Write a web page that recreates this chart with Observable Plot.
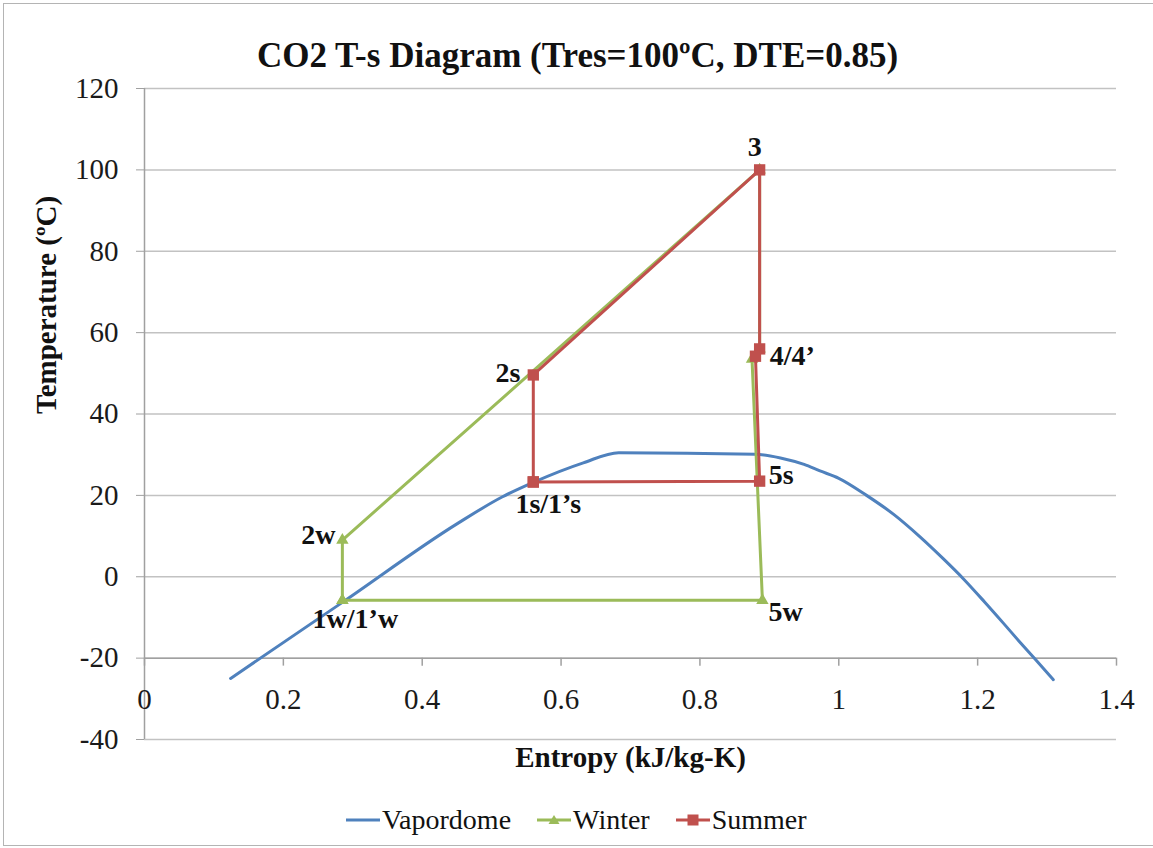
<!DOCTYPE html>
<html>
<head>
<meta charset="utf-8">
<script src="https://cdn.jsdelivr.net/npm/d3@7"></script>
<script src="https://cdn.jsdelivr.net/npm/@observablehq/plot@0.6"></script>
<style>
  body { margin: 0; background: #fff; }
  #wrap { position: relative; width: 1153px; height: 848px; overflow: hidden; background: #fff;
          font-family: "Liberation Serif", "Times New Roman", serif; }
  #frame { position: absolute; left: 3px; top: 3px; width: 1170px; height: 843px;
           border: 1px solid #b4b4b4; box-sizing: border-box; }
  #chart { position: absolute; left: 0; top: 0; }
  #legend { position: absolute; left: 346px; top: 804px; height: 32px; display: flex;
            align-items: center; font-size: 28px; color: #111; white-space: nowrap;
            font-family: "Liberation Serif", "Times New Roman", serif; }
  #legend .item { display: flex; align-items: center; }
  #legend svg { display: block; }
</style>
</head>
<body>
<div id="wrap">
  <div id="frame"></div>
  <div id="chart"></div>
  <div id="legend"></div>
</div>
<script>
// ---- Data ----
const vapordomeS = [0.124, 0.285, 0.45, 0.515, 0.56, 0.632, 0.683, 0.880, 0.916, 0.95, 0.973, 1.0, 1.04, 1.08, 1.117, 1.15, 1.18, 1.21, 1.237, 1.26, 1.283, 1.309];
const vapordomeT = [-25, -6.3, 13, 19.6, 23.2, 28, 30.5, 30.1, 29.2, 27.6, 26.0, 24.2, 20, 15.2, 9.8, 4.5, -0.6, -6.2, -11.4, -15.9, -20.3, -25.3];

const winterS = [0.285, 0.285, 0.886, 0.886, 0.875, 0.890, 0.285];
const winterT = [-5.8, 9.0, 100, 56, 53.5, -5.8, -5.8];
const winterLabels = ["1w/1’w", "2w", "", "", "", "5w", ""];

const summerS = [0.560, 0.560, 0.886, 0.886, 0.880, 0.886, 0.560];
const summerT = [23.3, 49.6, 100, 56, 54.2, 23.5, 23.3];
const summerLabels = ["1s/1’s", "2s", "3", "4/4’", "", "5s", ""];

const seriesNames = ["Vapordome", "Winter", "Summer"];
const seriesColors = ["#4F81BD", "#9BBB59", "#C0504D"];

const yTicks = [-40, -20, 0, 20, 40, 60, 80, 100, 120];
const xTicks = [0, 0.2, 0.4, 0.6, 0.8, 1.0, 1.2, 1.4];
const xTickLabels = ["0", "0.2", "0.4", "0.6", "0.8", "1", "1.2", "1.4"];
const xAxisCross = -20;

const titleText = "CO2 T-s Diagram (Tres=100ºC, DTE=0.85)";
const xLabel = "Entropy (kJ/kg-K)";
const yLabel = "Temperature (ºC)";

// ---- Build tables ----
const vapordome = vapordomeS.map((s, i) => ({s, T: vapordomeT[i]}));
const winter = winterS.map((s, i) => ({s, T: winterT[i], label: winterLabels[i]}));
const summer = summerS.map((s, i) => ({s, T: summerT[i], label: summerLabels[i]}));

// label placement (styling)
const labelPlacement = {
  "3":      {dx: -5,  dy: -23, anchor: "middle"},
  "2s":     {dx: -13, dy: -2,  anchor: "end"},
  "4/4’":   {dx: 10,  dy: 7,   anchor: "start"},
  "5s":     {dx: 9,   dy: -6,  anchor: "start"},
  "1s/1’s": {dx: 15,  dy: 22,  anchor: "middle"},
  "2w":     {dx: -7,  dy: -5,  anchor: "end"},
  "1w/1’w": {dx: 13,  dy: 19,  anchor: "middle"},
  "5w":     {dx: 6,   dy: 12,  anchor: "start"}
};
const labeled = [...winter, ...summer].filter(d => d.label);
const labelMarks = labeled.map(d => {
  const p = labelPlacement[d.label];
  return Plot.text([d], {x: "s", y: "T", text: "label", dx: p.dx, dy: p.dy, textAnchor: p.anchor,
    fontSize: 28, fontWeight: "bold", fill: "#111"});
});

const font = '"Liberation Serif", "Times New Roman", serif';
const axisGrey = "#a0a0a0";

const chart = Plot.plot({
  width: 1153,
  height: 800,
  marginLeft: 144,
  marginRight: 37,
  marginTop: 88,
  marginBottom: 61,
  x: {domain: [0, 1.4], label: null, axis: null},
  y: {domain: [-40, 120], label: null},
  style: {fontFamily: font, background: "transparent", color: "#111", overflow: "visible"},
  marks: [
    Plot.gridY(yTicks, {stroke: "#c2c2c2", strokeOpacity: 1, strokeWidth: 1.5}),
    Plot.ruleX([0], {stroke: axisGrey, strokeWidth: 1.5}),
    Plot.ruleY([xAxisCross], {stroke: axisGrey, strokeWidth: 1.5}),
    Plot.ruleX(xTicks, {x: d => d, y1: () => xAxisCross, y2: () => xAxisCross, insetBottom: -8, stroke: axisGrey, strokeWidth: 1.5}),
    Plot.axisY(yTicks, {tickSize: 8, tickPadding: 18, tickFormat: d => String(d), fontSize: 29,
      stroke: axisGrey, fill: "#1a1a1a", label: null}),
    Plot.text(xTicks, {x: d => d, y: () => xAxisCross, text: (d, i) => xTickLabels[i], dy: 42, fontSize: 29, fill: "#1a1a1a"}),
    // series
    Plot.line(vapordome, {x: "s", y: "T", stroke: seriesColors[0], strokeWidth: 3, curve: "monotone-x"}),
    Plot.line(winter, {x: "s", y: "T", stroke: seriesColors[1], strokeWidth: 3}),
    Plot.dot(winter, {x: "s", y: "T", symbol: "triangle", r: 4.6, fill: seriesColors[1], stroke: null}),
    Plot.line(summer, {x: "s", y: "T", stroke: seriesColors[2], strokeWidth: 3}),
    Plot.dot(summer, {x: "s", y: "T", symbol: "square", r: 6.4, fill: seriesColors[2], stroke: null}),
    ...labelMarks,
    // titles
    Plot.text([titleText], {frameAnchor: "top", text: d => d, dx: -53, dy: -46, fontSize: 35, fontWeight: "bold", fill: "#111"}),
    Plot.text([xLabel], {frameAnchor: "bottom", text: d => d, dy: 27, fontSize: 29, fontWeight: "bold", fill: "#111"}),
    Plot.text([yLabel], {frameAnchor: "left", text: d => d, dx: -98, rotate: -90, fontSize: 29, fontWeight: "bold", fill: "#111"})
  ]
});
document.getElementById("chart").appendChild(chart);

// ---- Legend ----
const legend = document.getElementById("legend");
seriesNames.forEach((name, i) => {
  const item = document.createElement("div");
  item.className = "item";
  if (i > 0) item.style.marginLeft = "26px";
  let marker = "";
  if (i === 1) marker = `<path d="M17,5 L22.5,14 L11.5,14 Z" fill="${seriesColors[i]}"/>`;
  if (i === 2) marker = `<rect x="11.5" y="4.5" width="11" height="11" fill="${seriesColors[i]}"/>`;
  item.innerHTML = `<svg width="34" height="20"><line x1="0" y1="10" x2="34" y2="10" stroke="${seriesColors[i]}" stroke-width="3"/>${marker}</svg><span style="margin-left:2px">${name}</span>`;
  legend.appendChild(item);
});
</script>
</body>
</html>
